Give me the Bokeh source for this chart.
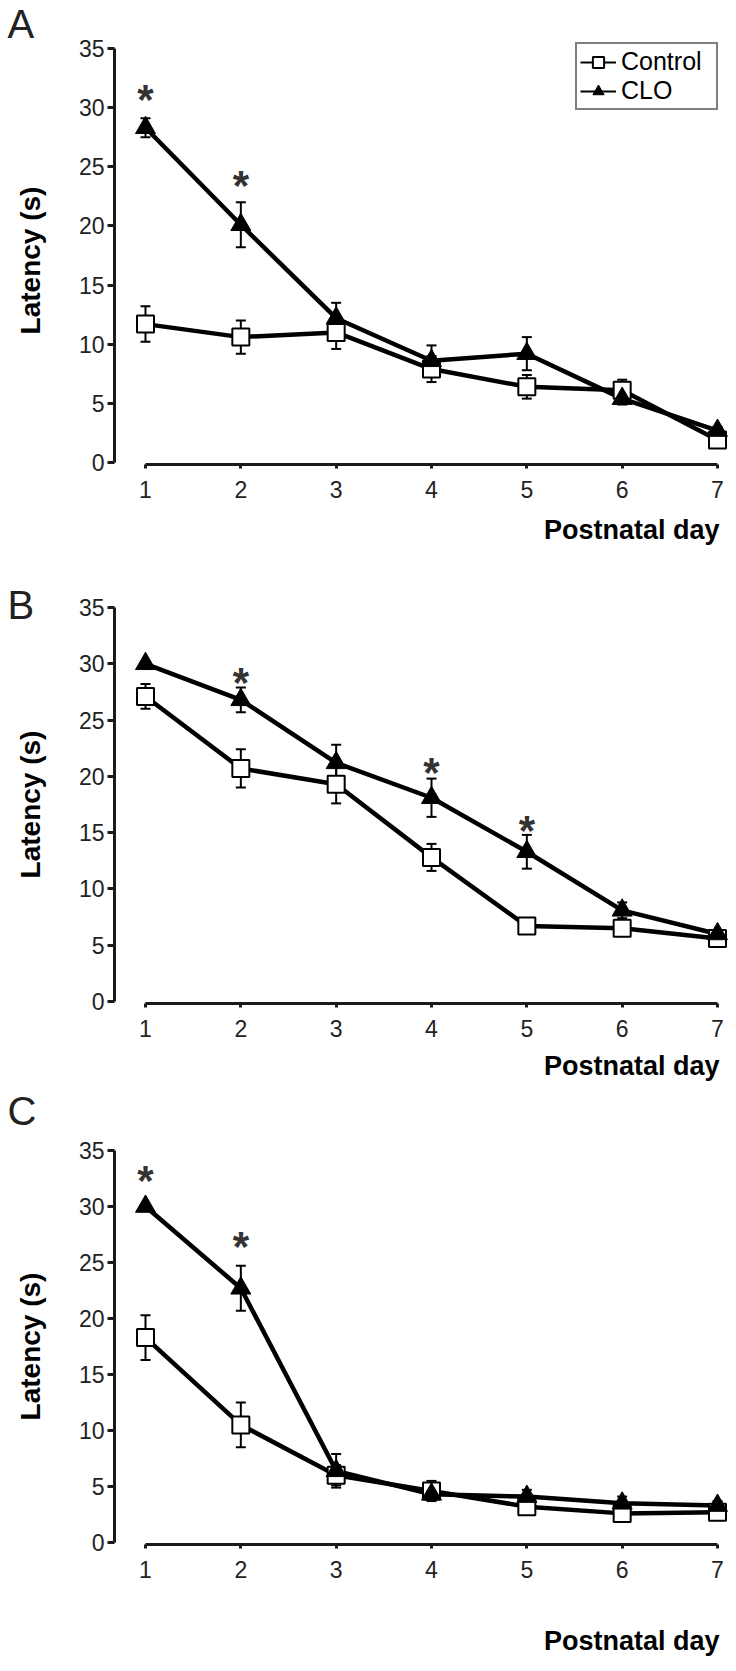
import math
from bokeh.plotting import figure
from bokeh.layouts import column
from bokeh.models import Range1d, Label, Legend, LegendItem, FixedTicker
from bokeh.embed import file_html
from bokeh.resources import INLINE
from bokeh.core.properties import value

# ---------------- data ----------------
days = [1, 2, 3, 4, 5, 6, 7]
y_ticks = [0, 5, 10, 15, 20, 25, 30, 35]
series_names = ["Control", "CLO"]
panel_letters = ["A", "B", "C"]
x_label = "Postnatal day"
y_label = "Latency (s)"

a_control = [11.7, 10.6, 11.0, 7.9, 6.4, 6.1, 1.9]
a_control_sem = [1.5, 1.4, 1.4, 1.1, 1.0, 0.9, 0.4]
a_clo = [28.3, 20.1, 12.2, 8.6, 9.2, 5.4, 2.7]
a_clo_sem = [0.8, 1.9, 1.3, 1.3, 1.4, 0.5, 0.3]
a_star_days = [1, 2]
a_star_y = [31.5, 24.3]

b_control = [27.1, 20.7, 19.3, 12.8, 6.7, 6.5, 5.6]
b_control_sem = [1.1, 1.7, 1.7, 1.2, 0.3, 0.3, 0.3]
b_clo = [30.0, 26.8, 21.2, 18.1, 13.3, 8.1, 6.0]
b_clo_sem = [0.1, 1.1, 1.6, 1.7, 1.5, 0.7, 0.3]
b_star_days = [2, 4, 5]
b_star_y = [29.2, 21.2, 16.1]

c_control = [18.3, 10.5, 6.0, 4.6, 3.2, 2.6, 2.7]
c_control_sem = [2.0, 2.0, 0.9, 0.9, 0.5, 0.4, 0.4]
c_clo = [30.0, 22.7, 6.4, 4.3, 4.1, 3.5, 3.3]
c_clo_sem = [0.1, 2.0, 1.5, 0.5, 0.6, 0.6, 0.4]
c_star_days = [1, 2]
c_star_y = [33.2, 27.3]

# ---------------- layout (page pixel coordinates) ----------------
FONT = "Liberation Sans"
CANVAS_L = 0
FIG_W = 728
CANVAS_R = CANVAS_L + FIG_W
YAXIS_PX = 114
DAY1_PX, DAY7_PX = 145, 717

layouts = [
    dict(top=0, bottom=548, y35=48, y0=462, xaxis=464, letter_c=23, xlabel_c=529, ylabel_c=260, legend=True),
    dict(top=548, bottom=1090, y35=607, y0=1001, xaxis=1003, letter_c=604, xlabel_c=1065, ylabel_c=804, legend=False),
    dict(top=1090, bottom=1663, y35=1150, y0=1542, xaxis=1544, letter_c=1110, xlabel_c=1640, ylabel_c=1346, legend=False),
]

panels = [
    (a_control, a_control_sem, a_clo, a_clo_sem, a_star_days, a_star_y),
    (b_control, b_control_sem, b_clo, b_clo_sem, b_star_days, b_star_y),
    (c_control, c_control_sem, c_clo, c_clo_sem, c_star_days, c_star_y),
]

ppd = (DAY7_PX - DAY1_PX) / 6.0


def xd(px):
    return 1 + (px - DAY1_PX) / ppd


x_start = xd(CANVAS_L)
x_end = xd(CANVAS_R)


def make_panel(letter, data, lay):
    ctrl, ctrl_sem, clo, clo_sem, sdays, sy = data
    ppu = (lay["y0"] - lay["y35"]) / 35.0

    def yd(py):
        return (lay["y0"] - py) / ppu

    height = lay["bottom"] - lay["top"]
    p = figure(width=FIG_W, height=height, output_backend="svg", toolbar_location=None,
               x_range=Range1d(x_start, x_end), y_range=Range1d(yd(lay["bottom"]), yd(lay["top"])),
               min_border_left=0, min_border_right=0, min_border_top=0, min_border_bottom=0)
    p.outline_line_color = None
    p.grid.visible = False
    p.background_fill_color = "white"
    p.border_fill_color = "white"

    # axes (placed inside the canvas at fixed positions)
    xa = p.xaxis[0]
    xa.fixed_location = yd(lay["xaxis"])
    xa.ticker = FixedTicker(ticks=days)
    xa.bounds = (1, 7)
    xa.axis_line_width = 3
    xa.axis_line_color = "#1a1a1a"
    xa.major_tick_line_width = 3
    xa.major_tick_line_color = "#1a1a1a"
    xa.major_tick_out = 4
    xa.major_tick_in = 0
    xa.minor_tick_line_color = None
    xa.major_label_standoff = 12
    xa.major_label_text_font = FONT
    xa.major_label_text_font_size = "23px"
    xa.major_label_text_color = "#222222"

    ya = p.yaxis[0]
    ya.fixed_location = xd(YAXIS_PX)
    ya.ticker = FixedTicker(ticks=y_ticks)
    ya.bounds = (0, 35)
    ya.axis_line_width = 3
    ya.axis_line_color = "#1a1a1a"
    ya.major_tick_line_width = 3
    ya.major_tick_line_color = "#1a1a1a"
    ya.major_tick_out = 7
    ya.major_tick_in = 0
    ya.minor_tick_line_color = None
    ya.major_label_standoff = 3
    ya.major_label_text_font = FONT
    ya.major_label_text_font_size = "23px"
    ya.major_label_text_color = "#222222"

    # error bars
    for vals, sems in ((ctrl, ctrl_sem), (clo, clo_sem)):
        lo = [v - s for v, s in zip(vals, sems)]
        hi = [v + s for v, s in zip(vals, sems)]
        p.segment(x0=days, y0=lo, x1=days, y1=hi, line_color="black", line_width=2)
        p.scatter(x=days, y=lo, marker="dash", size=10, line_color="black", line_width=2)
        p.scatter(x=days, y=hi, marker="dash", size=10, line_color="black", line_width=2)

    p.line(days, ctrl, line_color="black", line_width=4.5)
    p.line(days, clo, line_color="black", line_width=4.5)
    p.scatter(days, ctrl, marker="square", size=17, fill_color="white", line_color="black", line_width=2)
    p.scatter(days, clo, marker="triangle", size=20, fill_color="black", line_color="black", line_width=1)

    # significance asterisks
    p.text(x=sdays, y=sy, text=["*"] * len(sdays), text_align="center", text_baseline="middle",
           text_font=value(FONT), text_font_style="bold", text_font_size="42px", text_color="#333333",
           y_offset=10)

    # panel letter
    p.add_layout(Label(x=xd(7), y=yd(lay["letter_c"]),
                       text=letter, text_align="left", text_baseline="middle",
                       text_font=FONT, text_font_size="40px", text_color="#222222"))

    # y axis title
    p.add_layout(Label(x=xd(30), y=yd(lay["ylabel_c"]), text=y_label, angle=math.pi / 2,
                       text_align="center", text_baseline="middle",
                       text_font=FONT, text_font_size="28px", text_font_style="bold", text_color="black"))

    # x axis title (right aligned)
    p.add_layout(Label(x=xd(719), y=yd(lay["xlabel_c"]),
                       text=x_label, text_align="right", text_baseline="middle",
                       text_font=FONT, text_font_size="27px", text_font_style="bold", text_color="black"))

    if lay["legend"]:
        far = [x_start - 5]
        lr1 = p.line(far, [0], line_color="black", line_width=2)
        ls1 = p.scatter(far, [0], marker="square", size=14, fill_color="white", line_color="black", line_width=2)
        lr2 = p.line(far, [0], line_color="black", line_width=2)
        ls2 = p.scatter(far, [0], marker="triangle", size=16, fill_color="black", line_color="black")
        leg = Legend(items=[LegendItem(label=series_names[0], renderers=[lr1, ls1]),
                            LegendItem(label=series_names[1], renderers=[lr2, ls2])],
                     location=(575 - CANVAS_L, lay["bottom"] - 110),
                     border_line_color="black", border_line_width=2, background_fill_alpha=1,
                     padding=3, spacing=0, margin=0, glyph_width=36, glyph_height=28,
                     label_height=28, label_width=92, label_standoff=5,
                     label_text_font=FONT, label_text_font_size="25px", label_text_color="black")
        p.add_layout(leg)
    return p


figs = [make_panel(l, d, lay) for l, d, lay in zip(panel_letters, panels, layouts)]
page = column(*figs, spacing=0)
open("out.html", "w").write(file_html(page, INLINE))
